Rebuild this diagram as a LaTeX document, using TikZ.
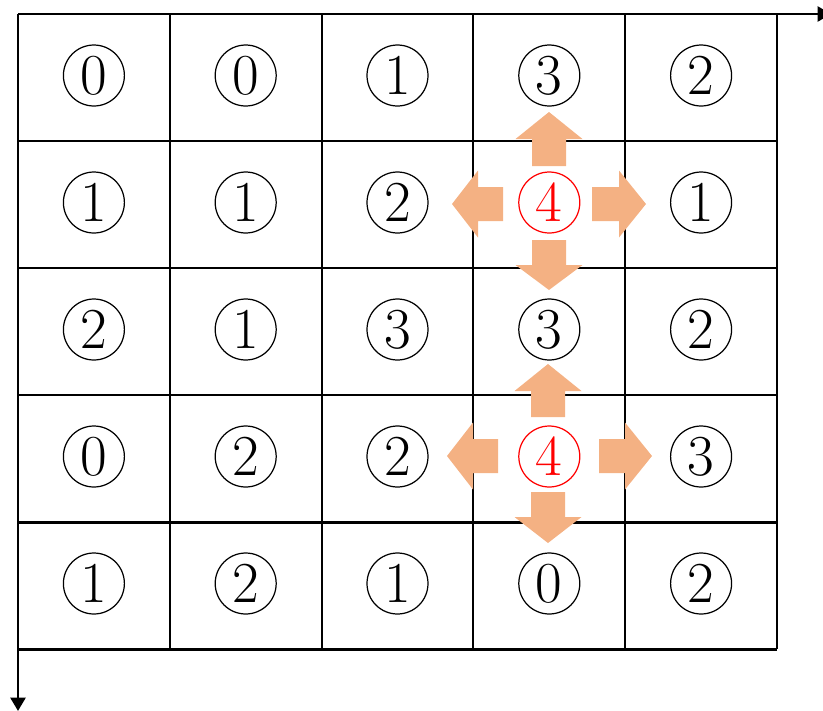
\documentclass[tikz,border=0pt]{standalone}
\usetikzlibrary{arrows.meta}
\definecolor{push}{HTML}{F4B183}
\definecolor{peak}{HTML}{FF0000}
\tikzset{
  gridline/.style={line width=1.7pt, draw=black},
  axis/.style={line width=1.7pt, -{Triangle[length=0.27cm,width=0.3cm]}},
  count/.style={circle, draw, line width=0.7pt, minimum size=1.22cm, inner sep=0pt,
                font=\fontsize{33}{33}\selectfont},
  hot/.style={count, draw=peak, text=peak},
  spread/.style={fill=push, draw=none}
}

\begin{document}
\begin{tikzpicture}[x=0.02cm,y=-0.02cm]
  \useasboundingbox (0,0) rectangle (823,711);
  \clip (0,0) rectangle (823,711);
  % cell grid
  \foreach \x in {18,170,322,473,625,777} {\draw[gridline] (\x,14) -- (\x,649);}
  \foreach \y in {14,141,268,395,522,649} {\draw[gridline] (18,\y) -- (777,\y);}
  % axes
  \coordinate (o) at (18,14);
  \coordinate (xend) at (831,14);
  \coordinate (yend) at (18,711);
  \draw[axis] (o) -- (xend);
  \draw[axis] (o) -- (yend);
  % circled counts
  \foreach \r/\vals in {1/{0,0,1,3,2},2/{1,1,2,4,1},3/{2,1,3,3,2},4/{0,2,2,4,3},5/{1,2,1,0,2}} {
    \foreach \v [count=\c] in \vals {
      \ifnum\v=4
        \node[hot] (n\r\c) at ({18+151.8*(\c-0.5)},{14+127*(\r-0.5)-2}) {\v};
      \else
        \node[count] (n\r\c) at ({18+151.8*(\c-0.5)},{14+127*(\r-0.5)-2}) {\v};
      \fi
    }
  }
  % spreading arrows
  \foreach \cx/\cy/\ang/\s/\b/\t in {549/204/90/38/65/92, 549/204/180/46/71/97,
      549/204/0/43/70/97, 549/204/270/36/61/86, 548/456/90/39/65/92,
      548/456/180/50/75/101, 548/456/0/51/77/104, 548/456/270/36/61/87} {
    \fill[spread, shift={(\cx,\cy)}, rotate=\ang]
      (\s,-17) -- (\b,-17) -- (\b,-33.5) -- (\t,0) -- (\b,33.5) -- (\b,17) -- (\s,17) -- cycle;
  }
\end{tikzpicture}
\end{document}
